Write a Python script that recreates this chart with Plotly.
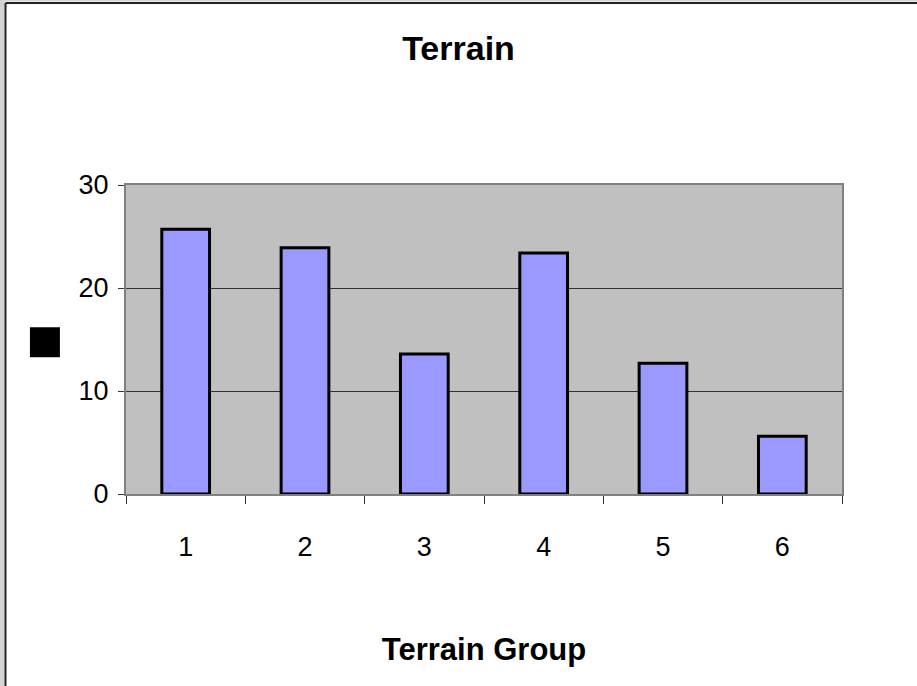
import plotly.graph_objects as go

# chart data
groups = ["1", "2", "3", "4", "5", "6"]
counts = [25.7, 23.9, 13.6, 23.4, 12.7, 5.6]
y_ticks = [0, 10, 20, 30]

W, H = 917, 686
M_L, M_R, M_T, M_B = 126, 75, 185, 192
PLOT_W = W - M_L - M_R
PLOT_H = H - M_T - M_B

FONT = "Liberation Sans, Arial, sans-serif"


def px_x(px):
    # pixel column -> paper x
    return (px - M_L) / PLOT_W


def px_y(py):
    # pixel row -> paper y
    return (H - M_B - py) / PLOT_H


fig = go.Figure()

fig.add_trace(go.Bar(
    x=groups,
    y=counts,
    width=0.4,
    marker=dict(color="#9999FF", line=dict(color="#000000", width=3)),
    showlegend=False,
))

# outer chart frame (top/left edge of the embedded chart object)
frame = [
    dict(type="rect", x0=px_x(-2), x1=px_x(4.5), y0=px_y(H + 10), y1=px_y(-2),
         fillcolor="#d4d4d4", line=dict(width=0)),
    dict(type="rect", x0=px_x(-2), x1=px_x(W + 10), y0=px_y(1.5), y1=px_y(-2),
         fillcolor="#d4d4d4", line=dict(width=0)),
    dict(type="line", x0=px_x(5.5), x1=px_x(5.5), y0=px_y(H + 10), y1=px_y(3),
         line=dict(color="#222222", width=2)),
    dict(type="line", x0=px_x(5.5), x1=px_x(W + 10), y0=px_y(3), y1=px_y(3),
         line=dict(color="#222222", width=2)),
]
for s in frame:
    s.update(xref="paper", yref="paper", layer="above")
    fig.add_shape(**s)

# value axis title (renders as a solid block in the original)
fig.add_annotation(
    text="\u25a0",
    xref="paper", yref="paper",
    x=px_x(44), y=px_y(339),
    xanchor="center", yanchor="middle",
    showarrow=False,
    font=dict(size=62, color="#000000"),
)

fig.update_layout(
    width=W,
    height=H,
    margin=dict(l=M_L, r=M_R, t=M_T, b=M_B, autoexpand=False),
    paper_bgcolor="#ffffff",
    plot_bgcolor="#c0c0c0",
    font=dict(family=FONT, color="#000000"),
    title=dict(
        text="<b>Terrain</b>",
        x=0.5, xref="container", xanchor="center",
        y=1 - 48 / H, yref="container", yanchor="middle",
        font=dict(size=34, family=FONT),
    ),
)

fig.update_xaxes(
    type="category",
    automargin=False,
    tickson="boundaries",
    ticks="outside",
    ticklen=8,
    tickcolor="#333333",
    tickfont=dict(size=27),
    ticklabelstandoff=28,
    showgrid=False,
    showline=True,
    linecolor="#808080",
    linewidth=2,
    mirror=True,
    title=dict(text="<b>Terrain Group</b>", font=dict(size=31), standoff=77),
)

fig.update_yaxes(
    automargin=False,
    range=[0, 30],
    tickvals=y_ticks,
    ticks="outside",
    ticklen=6,
    tickcolor="#333333",
    tickfont=dict(size=27),
    ticklabelstandoff=4,
    showgrid=True,
    gridcolor="#333333",
    gridwidth=1,
    zeroline=False,
    showline=True,
    linecolor="#808080",
    linewidth=2,
    mirror=True,
)

fig.write_html(
    "out.html",
    config={"displayModeBar": False},
    post_script="document.body.style.margin = '0';",
)
